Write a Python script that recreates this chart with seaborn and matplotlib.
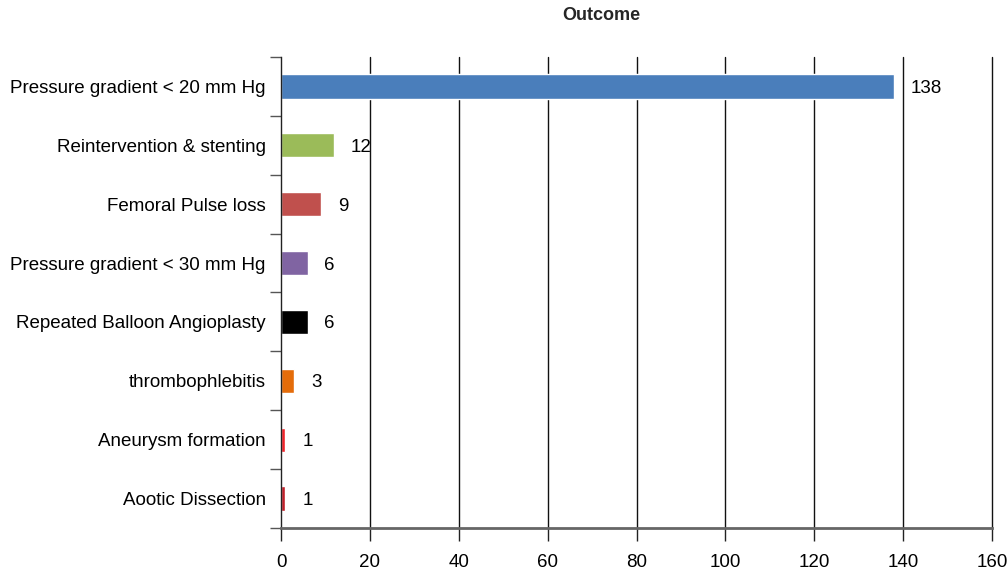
import matplotlib
matplotlib.use("Agg")
import matplotlib.pyplot as plt
import numpy as np
import pandas as pd
import seaborn as sns

categories = [
    "Pressure gradient < 20 mm Hg",
    "Reintervention & stenting",
    "Femoral Pulse loss",
    "Pressure gradient < 30 mm Hg",
    "Repeated Balloon Angioplasty",
    "thrombophlebitis",
    "Aneurysm formation",
    "Aootic Dissection",
]
counts = [138, 12, 9, 6, 6, 3, 1, 1]
colors = ["#4A7EBB", "#9BBB59", "#C0504D", "#8064A2", "#000000", "#E46C0A", "#F0242A", "#C0202A"]
x_ticks = [0, 20, 40, 60, 80, 100, 120, 140, 160]

sns.set_theme(style="white")
plt.rcParams["font.family"] = ["Liberation Sans", "DejaVu Sans"]

df = pd.DataFrame({"Outcome": categories, "Count": counts})

fig = plt.figure(figsize=(10.08, 5.8), dpi=100)
ax = fig.add_axes([0.2788, 0.0897, 0.7054, 0.812])
sns.barplot(data=df, x="Count", y="Outcome", hue="Outcome", palette=colors,
            orient="h", width=0.41, legend=False, ax=ax, saturation=1)

# value labels sit a bit right of each bar end, slightly below centre
for cont, v in zip(ax.containers, counts):
    txts = ax.bar_label(cont, labels=[str(v)], padding=12, fontsize=13.5, color="black")
    for t in txts:
        t.set_va("center_baseline")

ax.set_xlim(0, 160)
ax.set_ylim(len(categories) - 0.5, -0.5)
ax.set_xticks(x_ticks)
ax.set_xticklabels([str(t) for t in x_ticks], fontsize=13.5, color="black")
ax.tick_params(axis="x", direction="out", length=9, width=1, color="#222222", pad=10, bottom=True)
ax.tick_params(axis="y", which="major", length=0, labelsize=13.5, labelcolor="black", pad=11)
ax.set_yticks(np.arange(-0.5, len(categories), 1.0), minor=True)
ax.tick_params(axis="y", which="minor", direction="out", length=8, width=1, color="#555555", left=True)

for t in x_ticks[1:]:
    ax.axvline(t, color="#111111", lw=1.0, zorder=0, clip_on=False)

for s in ["top", "right"]:
    ax.spines[s].set_visible(False)
ax.spines["left"].set_color("#222222")
ax.spines["left"].set_linewidth(1.0)
ax.spines["bottom"].set_color("#666666")
ax.spines["bottom"].set_linewidth(2.0)
ax.set_xlabel("")
ax.set_ylabel("")
ax.grid(False)

fig.text(0.597, 0.974, "Outcome", ha="center", va="center", fontsize=13, fontweight="bold")

fig.savefig("out.png", dpi=100)
